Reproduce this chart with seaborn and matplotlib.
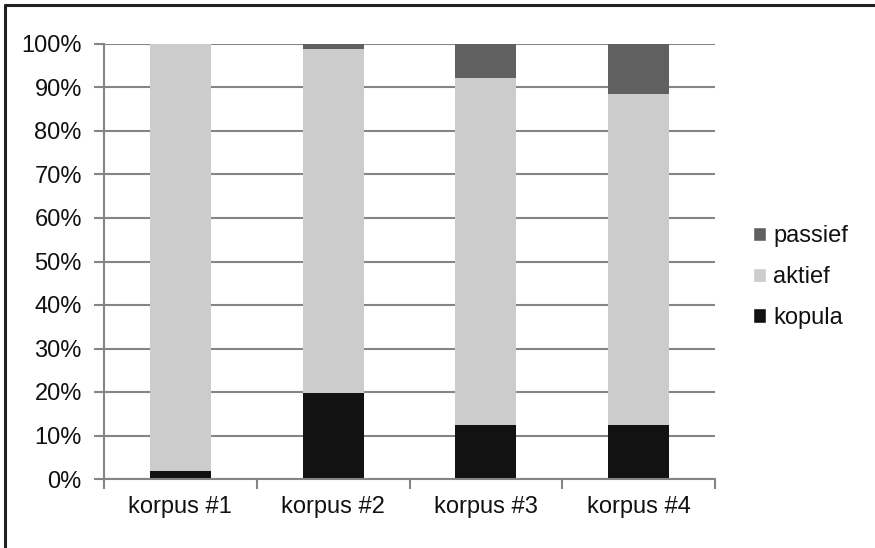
import matplotlib
matplotlib.use("Agg")
import matplotlib.pyplot as plt
import seaborn as sns
import pandas as pd
from matplotlib.patches import Patch
from matplotlib.lines import Line2D
from matplotlib.ticker import PercentFormatter

categories = ["korpus #1", "korpus #2", "korpus #3", "korpus #4"]
kopula = [1.8, 19.8, 12.3, 12.3]
passief = [0.0, 1.1, 7.8, 11.6]
aktief = [100 - k - p for k, p in zip(kopula, passief)]

sns.set_style("white")
plt.rcParams['font.family'] = ['Liberation Sans', 'DejaVu Sans']

df = pd.DataFrame({"cat": categories, "kopula": kopula, "aktief": aktief, "passief": passief})
df["b_aktief"] = df["kopula"]
df["b_passief"] = df["kopula"] + df["aktief"]

fig = plt.figure(figsize=(8.75, 5.48), dpi=100)
ax = fig.add_axes([104/875, 1-479/548, (715-104)/875, (479-44)/548])

col = {"kopula": "#121212", "aktief": "#cccccc", "passief": "#606060"}
w = 0.40
sns.barplot(data=df, x="cat", y="kopula", color=col["kopula"], width=w, ax=ax,
            saturation=1, linewidth=0, zorder=3)
sns.barplot(data=df, x="cat", y="aktief", bottom=df["b_aktief"], color=col["aktief"], width=w,
            ax=ax, saturation=1, linewidth=0, zorder=3)
sns.barplot(data=df, x="cat", y="passief", bottom=df["b_passief"], color=col["passief"], width=w,
            ax=ax, saturation=1, linewidth=0, zorder=3)

ax.set_xlim(-0.5, 3.5)
ax.set_ylim(0, 100)
ax.set_yticks(range(0, 101, 10))
ax.yaxis.set_major_formatter(PercentFormatter(decimals=0))
ax.set_xlabel("")
ax.set_ylabel("")
ax.grid(axis="y", color="#858585", linewidth=1.5, zorder=0)
ax.set_axisbelow(True)
for s in ["top", "right"]:
    ax.spines[s].set_visible(False)
for s in ["left", "bottom"]:
    ax.spines[s].set_color("#858585")
    ax.spines[s].set_linewidth(1.5)
    ax.spines[s].set_zorder(4)

fs = 17
ax.tick_params(axis="y", direction="out", length=7, width=1.5, color="#858585",
               labelsize=fs, pad=9, left=True)
ax.set_xticks([-0.5, 0.5, 1.5, 2.5, 3.5], minor=True)
ax.tick_params(axis="x", which="minor", direction="out", length=7, width=1.5, color="#858585", bottom=True)
ax.tick_params(axis="x", which="major", length=0, labelsize=fs, pad=12)
for t in ax.get_xticklabels() + ax.get_yticklabels():
    t.set_color("#111111")

handles = [Patch(facecolor=col["passief"], label="passief"),
           Patch(facecolor=col["aktief"], label="aktief"),
           Patch(facecolor=col["kopula"], label="kopula")]
fig.legend(handles=handles, loc="center left", bbox_to_anchor=(753/875, 1-277/548),
           frameon=False, fontsize=fs, handlelength=0.55, handleheight=0.55,
           handletextpad=0.3, labelspacing=0.8, borderpad=0, borderaxespad=0,
           labelcolor="#111111")

# outer frame (left and top edges visible)
fig.add_artist(Line2D([5/875, 5/875], [0, 1-5/548], transform=fig.transFigure, color="#222222", linewidth=2.2))
fig.add_artist(Line2D([5/875, 1], [1-5/548, 1-5/548], transform=fig.transFigure, color="#222222", linewidth=2.2))

fig.savefig("out.png", dpi=100)
